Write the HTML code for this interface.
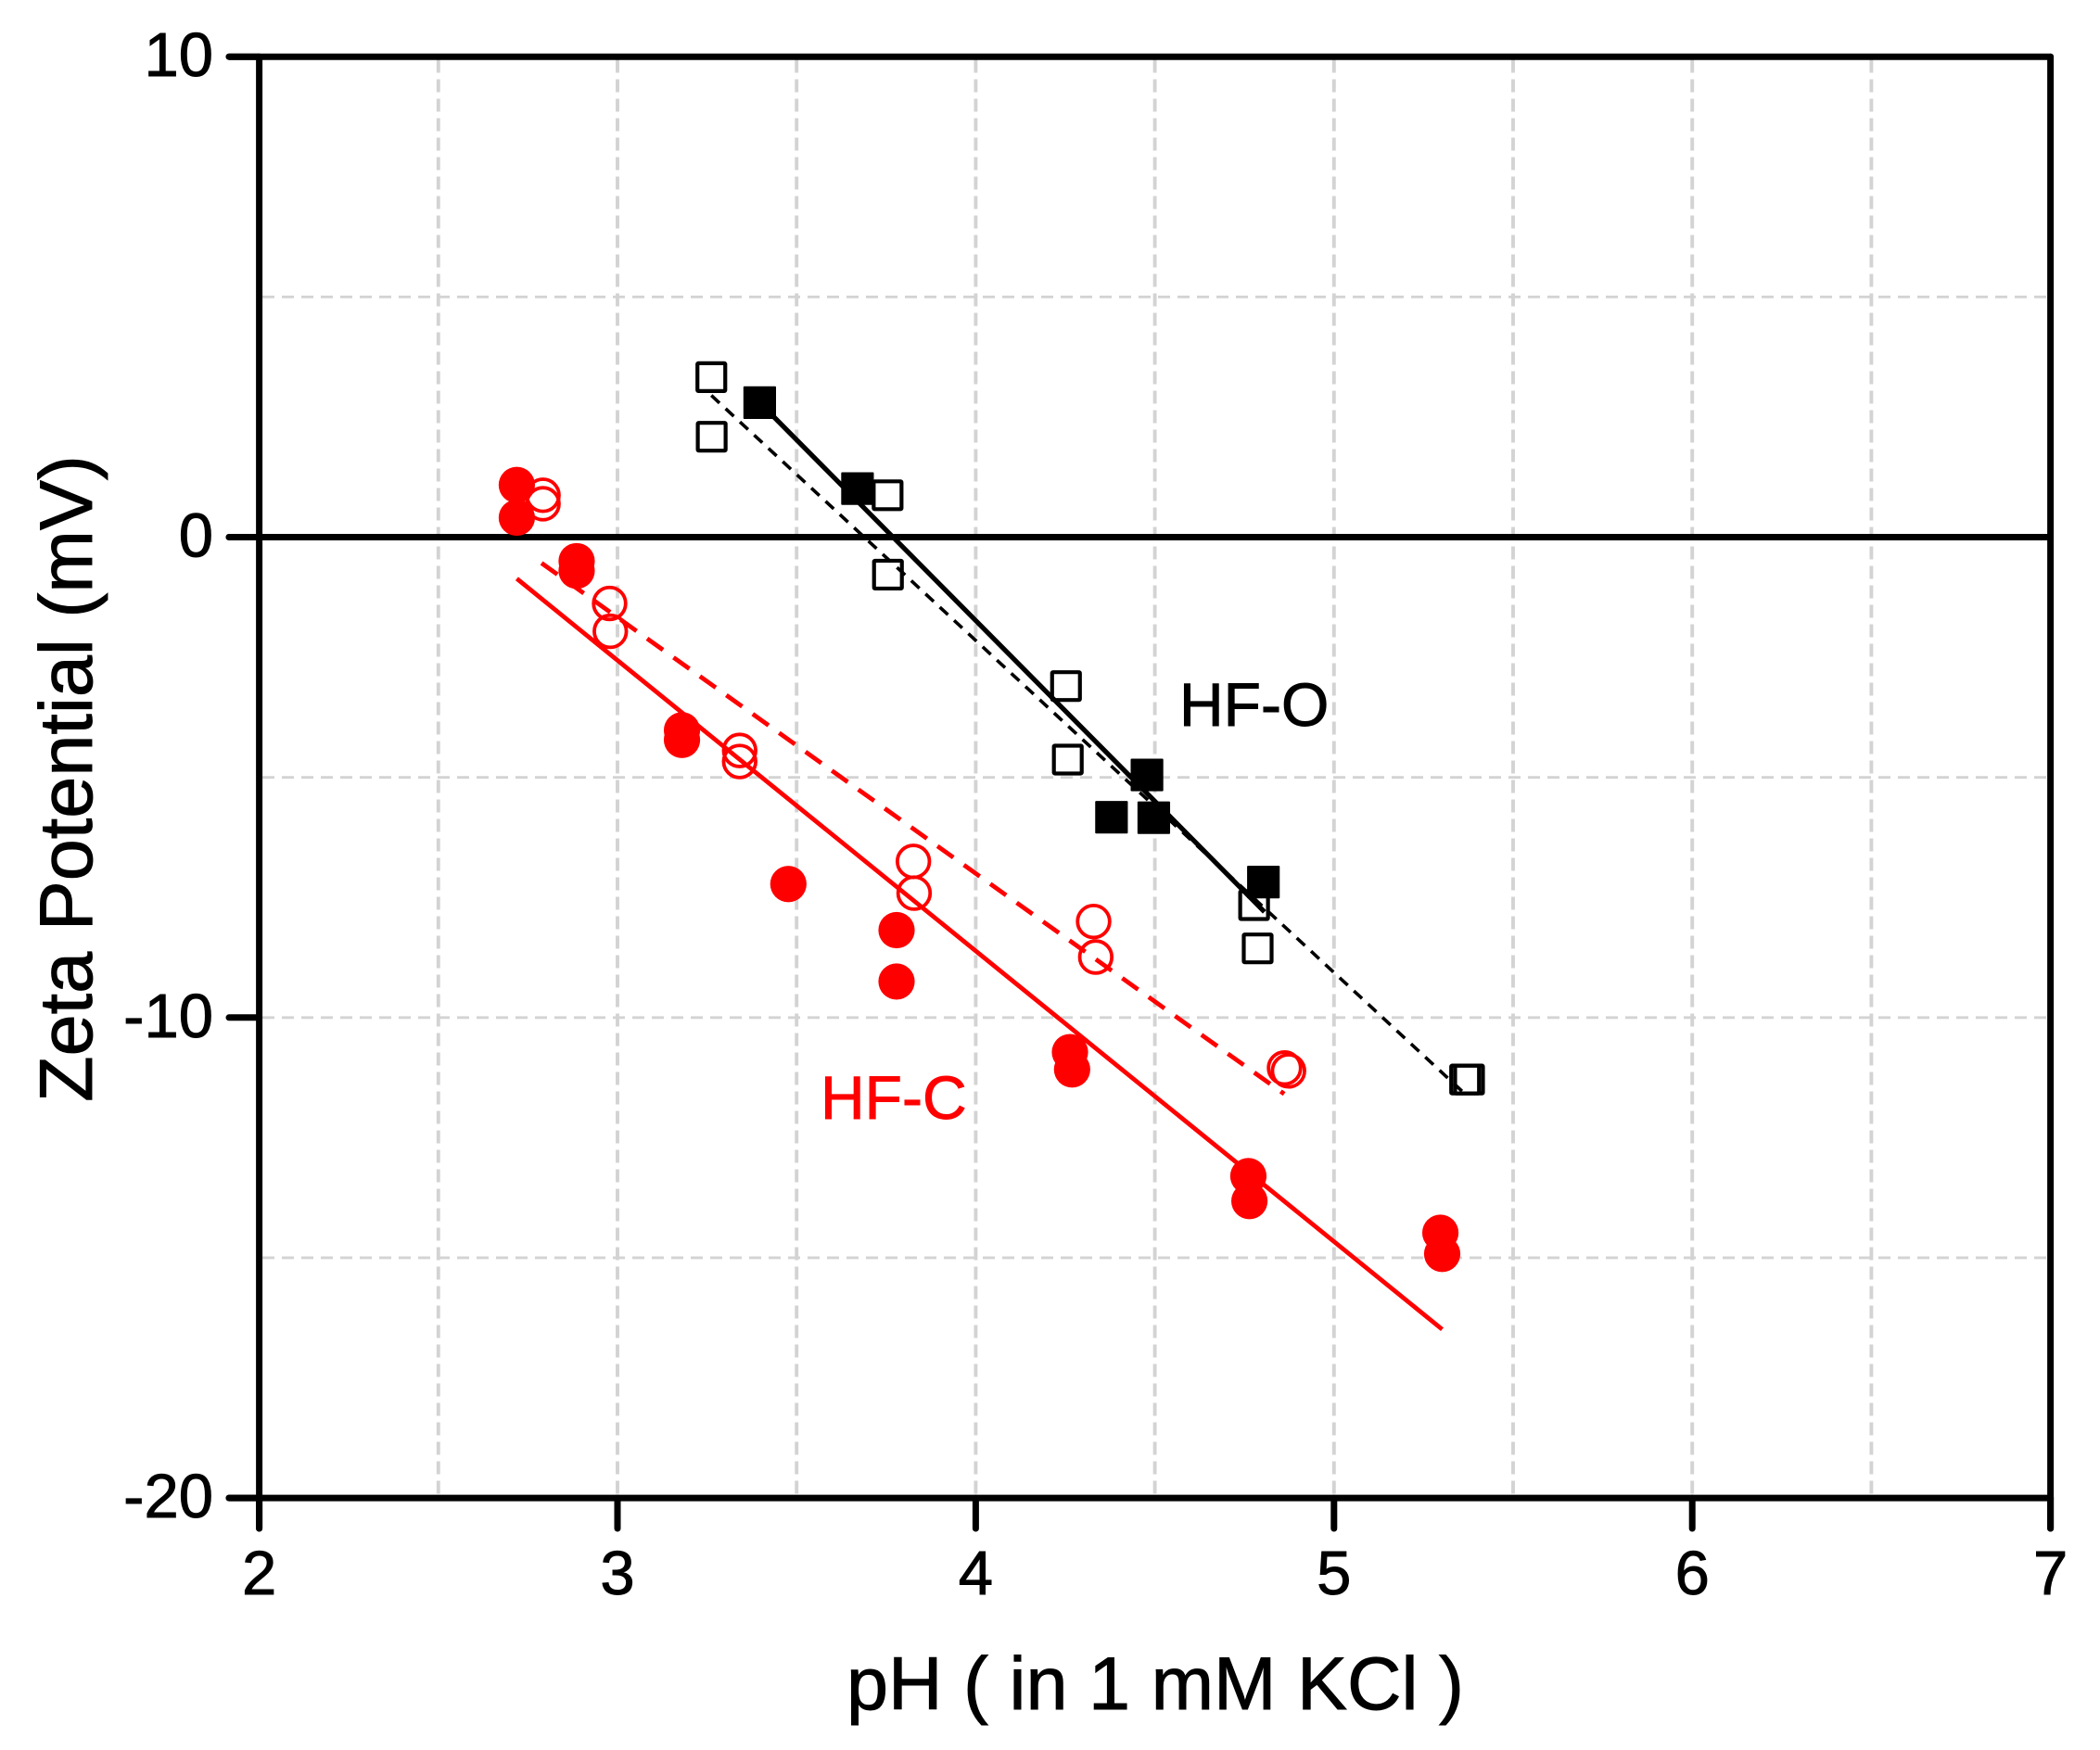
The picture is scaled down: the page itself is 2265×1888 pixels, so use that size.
<!DOCTYPE html>
<html lang="en">
<head>
<meta charset="utf-8">
<title>Zeta Potential vs pH</title>
<style>
html,body{margin:0;padding:0;background:#fff;}
svg{display:block;}
text{font-family:"Liberation Sans",Arial,sans-serif;fill:#000;stroke:#000;stroke-width:0.9px;}
</style>
</head>
<body>
<svg id="chart" xmlns="http://www.w3.org/2000/svg" width="2265" height="1888" viewBox="0 0 2265 1888">
  <rect x="0" y="0" width="2265" height="1888" fill="#ffffff"/>
  <g id="grid"></g>
  <g id="axes"></g>
  <g id="series"></g>
  <text x="1246" y="1844" font-size="81" text-anchor="middle">pH ( in 1 mM KCl )</text>
  <text transform="translate(99,840) rotate(-90)" font-size="81" text-anchor="middle">Zeta Potential (mV)</text>
  <text x="1272" y="783" font-size="66">HF-O</text>
  <text x="885" y="1207" font-size="66" style="fill:#ff0000;stroke:#ff0000">HF-C</text>
</svg>
<script>
const xTickLabels = [2, 3, 4, 5, 6, 7];
const yTickLabels = [10, 0, -10, -20];
const xGridValues = [2.5, 3, 3.5, 4, 4.5, 5, 5.5, 6, 6.5];
const yGridValues = [5, -5, -10, -15];

const hfcFilledX = [2.719, 2.719, 2.886, 2.886, 3.18, 3.18, 3.477, 3.779, 3.779, 4.263, 4.269, 4.761, 4.764, 5.297, 5.302];
const hfcFilledY = [1.086, 0.405, -0.50, -0.70, -4.02, -4.22, -7.22, -8.18, -9.25, -10.72, -11.08, -13.30, -13.82, -14.48, -14.92];
const hfcOpenX = [2.792, 2.792, 2.978, 2.98, 3.341, 3.341, 3.826, 3.828, 4.329, 4.335, 4.862, 4.873];
const hfcOpenY = [0.872, 0.695, -1.38, -1.96, -4.44, -4.67, -6.75, -7.41, -8.0, -8.74, -11.05, -11.11];
const hfoFilledX = [3.397, 3.67, 4.478, 4.379, 4.497, 4.803];
const hfoFilledY = [2.80, 1.01, -4.95, -5.83, -5.84, -7.18];
const hfoOpenX = [3.262, 3.263, 3.754, 3.755, 4.252, 4.257, 4.777, 4.787, 5.366, 5.377];
const hfoOpenY = [3.33, 2.09, 0.872, -0.78, -3.10, -4.63, -7.66, -8.56, -11.29, -11.29];

const hfcSolidFitX = [2.719, 5.302];
const hfcSolidFitY = [-0.864, -16.49];
const hfcDashedFitX = [2.788, 4.861];
const hfcDashedFitY = [-0.54, -11.59];
const hfoSolidFitX = [3.397, 4.806];
const hfoSolidFitY = [2.80, -7.80];
const hfoDashedFitX = [3.262, 5.36];
const hfoDashedFitY = [2.95, -11.55];

const NS = 'http://www.w3.org/2000/svg';
const xScale = v => 279.6 + (v - 2) * 386.4;
const yScale = v => 579.5 - v * 51.83;
const gridG = document.getElementById('grid');
const axesG = document.getElementById('axes');
const seriesG = document.getElementById('series');

function make(tag, attrs, parent) {
  const el = document.createElementNS(NS, tag);
  for (const k in attrs) el.setAttribute(k, attrs[k]);
  parent.appendChild(el);
  return el;
}

xGridValues.forEach(v => {
  const el = make('line', {x1: xScale(v), x2: xScale(v), y1: 64.5, y2: 1613, stroke: '#d3d3d3', 'stroke-width': 3.9, 'stroke-dasharray': '14 7'}, gridG);
  
  
});
yGridValues.forEach(v => {
  const el = make('line', {x1: 283, x2: 2208, y1: yScale(v), y2: yScale(v), stroke: '#d3d3d3', 'stroke-width': 2.9, 'stroke-dasharray': '13 8'}, gridG);
  
  
});

const axisAttrs = {stroke: '#000', 'stroke-width': 7, 'stroke-linecap': 'round'};
const frame = [
  ['left-axis', xScale(2), yScale(10), xScale(2), 1649],
  ['right-axis', xScale(7), yScale(10), xScale(7), 1649],
  ['top-axis', 247, yScale(10), xScale(7), yScale(10)],
  ['bottom-axis', 247, yScale(-20), xScale(7), yScale(-20)],
  ['zero-line', 247, yScale(0), xScale(7), yScale(0)]
];
frame.forEach(f => {
  const el = make('line', Object.assign({x1: f[1], y1: f[2], x2: f[3], y2: f[4]}, axisAttrs), axesG);
  
  
});
xTickLabels.forEach(v => {
  const tick = make('line', Object.assign({x1: xScale(v), x2: xScale(v), y1: yScale(-20), y2: 1649}, axisAttrs), axesG);
  
  
  const t = make('text', {x: xScale(v), y: 1720, 'font-size': 67, 'text-anchor': 'middle'}, axesG);
  t.textContent = String(v);
  
  
});
yTickLabels.forEach(v => {
  const tick = make('line', Object.assign({x1: 247, x2: xScale(2), y1: yScale(v), y2: yScale(v)}, axisAttrs), axesG);
  
  
  const t = make('text', {x: 230, y: yScale(v) + 21, 'font-size': 67, 'text-anchor': 'end'}, axesG);
  t.textContent = String(v);
  
  
});

function fitLine(xs, ys, color, width, dash, name) {
  const el = make('line', {x1: xScale(xs[0]), y1: yScale(ys[0]), x2: xScale(xs[1]), y2: yScale(ys[1]), stroke: color, 'stroke-width': width}, seriesG);
  if (dash) el.setAttribute('stroke-dasharray', dash);
  
  
}
fitLine(hfoDashedFitX, hfoDashedFitY, '#000', 3.6, '12 9', 'hf-o-dashed-fit-line');
fitLine(hfoSolidFitX, hfoSolidFitY, '#000', 5.2, '', 'hf-o-solid-fit-line');
fitLine(hfcDashedFitX, hfcDashedFitY, '#ff0000', 4.8, '21 14', 'hf-c-dashed-fit-line');
fitLine(hfcSolidFitX, hfcSolidFitY, '#ff0000', 4.8, '', 'hf-c-solid-fit-line');

hfoOpenX.forEach((x, i) => {
  const el = make('rect', {x: xScale(x) - 15, y: yScale(hfoOpenY[i]) - 15, width: 30, height: 30, fill: 'none', stroke: '#000', 'stroke-width': 4.2, rx: 1}, seriesG);
  
  
});
hfoFilledX.forEach((x, i) => {
  const el = make('rect', {x: xScale(x) - 17.6, y: yScale(hfoFilledY[i]) - 17.6, width: 35.2, height: 35.2, fill: '#000', rx: 1}, seriesG);
  
  
});
hfcOpenX.forEach((x, i) => {
  const el = make('circle', {cx: xScale(x), cy: yScale(hfcOpenY[i]), r: 17.3, fill: 'none', stroke: '#ff0000', 'stroke-width': 3.8}, seriesG);
  
  
});
hfcFilledX.forEach((x, i) => {
  const el = make('circle', {cx: xScale(x), cy: yScale(hfcFilledY[i]), r: 19.6, fill: '#ff0000'}, seriesG);
  
  
});
</script>
</body>
</html>
